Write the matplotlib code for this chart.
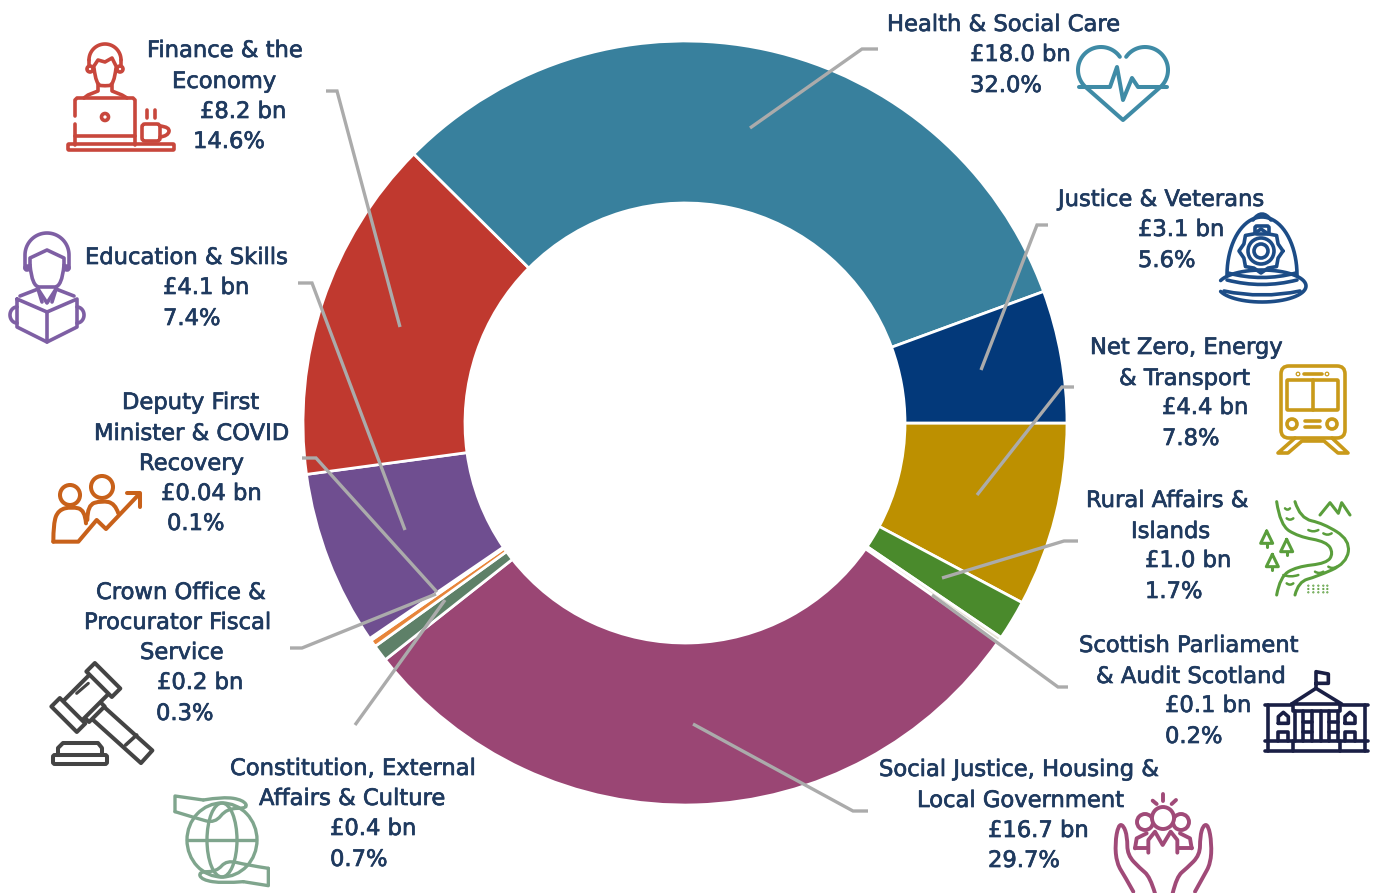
import numpy as np
import matplotlib
matplotlib.use("Agg")
import matplotlib.pyplot as plt
import matplotlib.patheffects as pe
from matplotlib.path import Path
from matplotlib.patches import PathPatch, Circle, Ellipse, FancyBboxPatch

# ---- data (clockwise from due east) ----
categories = ["Net Zero, Energy & Transport", "Rural Affairs & Islands", "Scottish Parliament & Audit Scotland",
              "Social Justice, Housing & Local Government", "Constitution, External Affairs & Culture",
              "Crown Office & Procurator Fiscal Service", "Deputy First Minister & COVID Recovery",
              "Education & Skills", "Finance & the Economy", "Health & Social Care", "Justice & Veterans"]
shares = [7.8, 1.7, 0.2, 29.7, 0.7, 0.3, 0.1, 7.4, 14.6, 32.0, 5.6]
budget_labels = ["£4.4 bn", "£1.0 bn", "£0.1 bn", "£16.7 bn", "£0.4 bn", "£0.2 bn", "£0.04 bn",
                 "£4.1 bn", "£8.2 bn", "£18.0 bn", "£3.1 bn"]
share_labels = ["7.8%", "1.7%", "0.2%", "29.7%", "0.7%", "0.3%", "0.1%", "7.4%", "14.6%", "32.0%", "5.6%"]
colors = ["#BD9000", "#4A8A2C", "#E8E4D8", "#9A4674", "#5E8068", "#E8853A", "#E8853A",
          "#6F4E90", "#C0392F", "#38809D", "#03397A"]

TEXT = "#1F3A5F"
GREY = "#ABABAB"
plt.rcParams['font.family'] = ['DejaVu Sans']

fig = plt.figure(figsize=(13.77, 8.93), dpi=100)
ax = fig.add_axes([0, 0, 1, 1])
ax.pie(shares, colors=colors, center=(685, 423), radius=382, startangle=0, counterclock=True,
       wedgeprops=dict(width=162, edgecolor="white", linewidth=2.0))
ax.set_xlim(0, 1377)
ax.set_ylim(893, 0)
ax.set_aspect("equal")
ax.axis("off")

# ---- helpers (pixel units) ----
LW = 2.6
def line(pts, c, lw=LW, **k):
    p = np.array(pts, float)
    ax.plot(p[:, 0], p[:, 1], color=c, lw=lw, solid_capstyle="round", solid_joinstyle="round", **k)

def smooth(pts, c, lw=LW):
    p = [tuple(q) for q in pts]
    verts = [p[0]]; codes = [Path.MOVETO]
    for i in range(1, len(p) - 1):
        mid = ((p[i][0] + p[i + 1][0]) / 2, (p[i][1] + p[i + 1][1]) / 2)
        if i == len(p) - 2:
            mid = p[-1]
        verts += [p[i], mid]; codes += [Path.CURVE3, Path.CURVE3]
    ax.add_patch(PathPatch(Path(verts, codes), fc="none", ec=c, lw=lw, capstyle="round", joinstyle="round"))

def arc(cx, cy, rx, ry, a0, a1, n=40):
    t = np.radians(np.linspace(a0, a1, n))
    return list(zip(cx + rx * np.cos(t), cy + ry * np.sin(t)))

def circ(x, y, r, c, lw=LW, fc="none", z=3):
    ax.add_patch(Circle((x, y), r, fc=fc, ec=c, lw=lw, zorder=z))

def box(x0, y0, x1, y1, c, lw=LW, pad=2, fc="none"):
    ax.add_patch(FancyBboxPatch((x0 + pad, y0 + pad), x1 - x0 - 2 * pad, y1 - y0 - 2 * pad,
                                boxstyle=f"round,pad={pad},rounding_size={pad}", fc=fc, ec=c, lw=lw))

def rbox(cx, cy, w, h, ang, c, lw=LW, z=3):
    a = np.radians(ang)
    ux, uy = np.cos(a), np.sin(a)
    vx, vy = -uy, ux
    pts = [(cx + s * w / 2 * ux + t * h / 2 * vx, cy + s * w / 2 * uy + t * h / 2 * vy)
           for s, t in [(-1, -1), (1, -1), (1, 1), (-1, 1), (-1, -1)]]
    p = np.array(pts)
    ax.fill(p[:, 0], p[:, 1], fc="white", ec=c, lw=lw, joinstyle="round", zorder=z)

def mapz(pts, ox, oy):
    return [(ox + x / 3, oy + y / 3) for x, y in pts]

# ---- leader lines ----
leaders = [
    [(878, 49), (862, 49), (750, 128)], [(1048, 225), (1037, 225), (981, 370)],
    [(1074, 387), (1062, 387), (977, 495)], [(1078, 541), (1064, 541), (942, 578)],
    [(1068, 687), (1058, 687), (932, 595)], [(868, 811), (853, 811), (693, 724)],
    [(355, 725), (445, 600)], [(290, 648), (302, 648), (436, 594)],
    [(302, 458), (316, 458), (437, 592)], [(298, 283), (312, 283), (405, 530)],
    [(326, 91), (337, 91), (400, 327)],
]
for l in leaders:
    p = np.array(l, float)
    ax.plot(p[:, 0], p[:, 1], color=GREY, lw=2.4, solid_joinstyle="miter", solid_capstyle="butt")

# ---- labels ----
name_lines = {
    0: ["Net Zero, Energy", "& Transport"], 1: ["Rural Affairs &", "Islands"],
    2: ["Scottish Parliament", "& Audit Scotland"], 3: ["Social Justice, Housing &", "Local Government"],
    4: ["Constitution, External", "Affairs & Culture"], 5: ["Crown Office &", "Procurator Fiscal", "Service"],
    6: ["Deputy First", "Minister & COVID", "Recovery"], 7: ["Education & Skills"],
    8: ["Finance & the", "Economy"], 9: ["Health & Social Care"], 10: ["Justice & Veterans"],
}
anchors = {
    0: ([1090, 1119, 1162, 1162], [345, 376, 405, 436]),
    1: ([1086, 1131, 1145, 1145], [498, 529, 558, 589]),
    2: ([1079, 1096, 1165, 1165], [643, 674, 703, 734]),
    3: ([879, 917, 988, 988], [767, 798, 828, 858]),
    4: ([230, 259, 330, 330], [766, 796, 826, 857]),
    5: ([96, 84, 140, 157, 156], [590, 620, 650, 680, 711]),
    6: ([122, 94, 139, 161, 167], [400, 431, 461, 491, 521]),
    7: ([85, 163, 163], [255, 285, 316]),
    8: ([147, 172, 200, 193], [48, 79, 109, 139]),
    9: ([887, 970, 970], [22, 52, 83]),
    10: ([1058, 1138, 1138], [197, 227, 258]),
}
for i in range(len(categories)):
    rows = name_lines[i] + [budget_labels[i], share_labels[i]]
    xs, ys = anchors[i]
    for s, x, y in zip(rows, xs, ys):
        ax.text(x, y, s, fontsize=16.3, color=TEXT, ha="left", va="center_baseline",
                path_effects=[pe.withStroke(linewidth=0.5, foreground=TEXT)])

# ---- icons ----
# Finance
c = "#C8473C"
line(arc(105, 60, 16, 16, 180, 360), c)
line([(89, 60), (89, 66)], c); line([(121, 60), (121, 66)], c)
circ(90, 69, 3, c); circ(120, 69, 3, c)
line([(94, 66), (98, 60), (105, 62), (112, 58), (116, 66)], c)
smooth([(94, 68), (96, 85), (105, 86), (114, 85), (116, 68)], c)
line([(98, 84), (98, 91), (88, 95), (84, 98)], c); line([(112, 84), (112, 91), (122, 95), (127, 98)], c)
line([(75, 116), (75, 100), (77, 98), (133, 98), (135, 100), (135, 145)], c)
line([(75, 124), (75, 145)], c); line([(75, 136), (135, 136)], c)
circ(105, 117, 3.5, c)
box(68, 144, 174, 150, c, pad=1)
box(142, 124, 160, 141, c, pad=3)
smooth([(160, 126), (170, 127), (168, 136), (160, 137)], c)
line([(147, 110), (147, 118)], c); line([(155, 110), (155, 118)], c)
# Education
c = "#7E5FA4"
line([(25, 268)] + arc(47, 255, 22, 22, 180, 360) + [(69, 268)], c)
line([(30, 265), (30, 258), (47, 250), (64, 258), (64, 265)], c)
smooth([(30, 265), (32, 287), (47, 287), (62, 287), (64, 265)], c)
circ(27, 268, 2, c); circ(67, 268, 2, c)
line([(20, 296), (38, 289), (47, 303), (56, 289), (74, 296)], c)
line([(38, 289), (42, 302)], c); line([(56, 289), (52, 302)], c)
line([(17, 299), (47, 312), (77, 299), (77, 327), (47, 342), (17, 327), (17, 299)], c)
line([(47, 312), (47, 342)], c)
line(arc(17, 315, 7, 8, 90, 270), c); line(arc(77, 315, 7, 8, -90, 90), c)
# Heart
c = "#3F8BA6"
line(arc(1101, 70, 23, 23, -35, -225) + [(1123, 120)] + arc(1145, 70, 23, 23, 45, -145), c, 2.9)
line([(1079, 87), (1110, 87), (1117, 67), (1123, 100), (1132, 78), (1138, 87), (1167, 87)], c, 2.9)
# Helmet
c = "#1C4C86"
line(arc(1262, 275, 35, 58, 180, 360), c)
smooth([(1253, 220), (1262, 208), (1271, 220)], c)
box(1255, 226, 1269, 234, c, pad=2)
star = []
for k in range(16):
    r = 22 if k % 2 == 0 else 18.5
    a = k * np.pi / 8
    star.append((1261 + r * np.cos(a), 251 + r * np.sin(a)))
star.append(star[0])
line(star, c)
circ(1261, 251, 13, c); circ(1261, 251, 7, c)
smooth([(1228, 273), (1262, 282), (1296, 273)], c)
smooth([(1227, 280), (1262, 289), (1297, 280)], c)
line(arc(1262, 286, 44, 16, 200, 520, 60), c)
smooth([(1224, 291), (1262, 299), (1300, 291)], c)
# Train
c = "#C99A1A"
box(1281, 366, 1345, 438, c, pad=8)
box(1287, 380, 1338, 410, c, pad=1)
line([(1313, 380), (1313, 410)], c)
circ(1292, 424, 5, c); circ(1332, 424, 5, c)
line([(1305, 421), (1320, 421)], c); line([(1305, 427), (1320, 427)], c)
line([(1304, 374), (1322, 374)], c); circ(1298, 374, .6, c); circ(1327, 374, .6, c)
line([(1295, 438), (1278, 453), (1288, 453), (1302, 441), (1324, 441), (1338, 453), (1348, 453), (1332, 438)], c)
# River
c = "#5A9E3C"
o = (1230, 350)
smooth(mapz([(140, 455), (150, 525), (205, 560), (290, 575), (310, 610), (290, 640), (200, 650), (150, 680), (140, 735)], *o), c, 2.2)
smooth(mapz([(195, 455), (210, 505), (280, 520), (360, 570), (350, 640), (260, 680), (205, 695), (195, 735)], *o), c, 2.2)
line(mapz([(270, 495), (300, 458), (325, 490), (335, 458), (360, 495)], *o), c, 2.2)
for tx, ty in [(110, 565), (170, 590), (127, 635)]:
    line(mapz([(tx, ty - 22), (tx + 18, ty + 15), (tx - 18, ty + 15), (tx, ty - 22)], *o), c, 2.2)
    line(mapz([(tx, ty + 15), (tx, ty + 25)], *o), c, 2.2)
for a, b, d in [(165, 475, 180), (170, 505, 190), (235, 540, 265), (280, 550, 305), (255, 665, 280), (295, 650, 320), (160, 675, 205), (170, 700, 190)]:
    smooth(mapz([(a, b), ((a + d) / 2, b + 8), (d, b)], *o), c, 1.8)
for yy in (707, 717, 727):
    for xx in (235, 250, 265, 280, 292):
        x, y = mapz([(xx, yy)], *o)[0]
        circ(x, y, .4, c, 1.0)
# Parliament
c = "#1A1F45"
line(mapz([(185, 1062), (258, 1015), (335, 1062), (185, 1062)], *o), c)
line(mapz([(258, 1015), (258, 965), (295, 972), (295, 1000), (258, 1000)], *o), c)
line(mapz([(105, 1065), (185, 1065)], *o), c); line(mapz([(335, 1065), (415, 1065)], *o), c)
line(mapz([(190, 1062), (190, 1082), (330, 1082), (330, 1062)], *o), c)
line(mapz([(115, 1065), (115, 1172)], *o), c); line(mapz([(405, 1065), (405, 1172)], *o), c)
line(mapz([(105, 1172), (415, 1172)], *o), c); line(mapz([(105, 1203), (415, 1203)], *o), c)
line(mapz([(115, 1172), (115, 1203)], *o), c); line(mapz([(405, 1172), (405, 1203)], *o), c)
line(mapz([(190, 1172), (190, 1203)], *o), c); line(mapz([(330, 1172), (330, 1203)], *o), c)
for xx in (195, 220, 245, 272, 298, 325):
    line(mapz([(xx, 1082), (xx, 1172)], *o), c)
for xx in (220, 298):
    line(mapz([(xx, 1115), (xx + 27, 1115)], *o), c); line(mapz([(xx, 1145), (xx + 27, 1145)], *o), c)
for xx in (145, 345):
    line(mapz([(xx, 1120), (xx, 1100), (xx + 15, 1087), (xx + 30, 1100), (xx + 30, 1120), (xx, 1120)], *o), c)
    line(mapz([(xx, 1172), (xx, 1145), (xx + 30, 1145), (xx + 30, 1172)], *o), c)
# Hands / people
c = "#A04A78"
o = (1090, 780)
circ(1145, 822, 8, c, 2.8); circ(1181, 822, 8, c, 2.8); circ(1163, 818, 11, c, 2.8, fc="white", z=4)
line(mapz([(135, 205), (140, 175), (170, 160)], *o), c, 2.8)
line(mapz([(135, 205), (172, 205)], *o), c, 2.8)
line(mapz([(305, 205), (300, 175), (270, 160)], *o), c, 2.8)
line(mapz([(305, 205), (265, 205)], *o), c, 2.8)
line(mapz([(175, 218), (175, 180), (195, 155), (218, 195), (242, 155), (262, 180), (262, 218)], *o), c, 2.8)
line(mapz([(218, 42), (218, 62)], *o), c, 2.8)
line(mapz([(188, 62), (200, 72)], *o), c, 2.8); line(mapz([(245, 72), (258, 60)], *o), c, 2.8)
smooth(mapz([(130, 335), (105, 290), (80, 250), (75, 190), (85, 135), (100, 135), (112, 170), (112, 225), (150, 265), (180, 290), (195, 340)], *o), c, 2.8)
smooth(mapz([(315, 335), (340, 290), (362, 250), (365, 190), (355, 135), (340, 135), (330, 170), (330, 225), (290, 265), (260, 290), (248, 340)], *o), c, 2.8)
# DFM people and arrow
c = "#C8611A"
o = (30, 460)
circ(70, 495, 10, c, 2.9); circ(102, 487, 11, c, 2.9)
line(mapz([(70, 245), (145, 245), (200, 180), (228, 207), (325, 105)], *o), c, 2.9)
line(mapz([(290, 100), (330, 100), (330, 140)], *o), c, 2.9)
smooth(mapz([(70, 245), (70, 190), (85, 150), (125, 140), (165, 150), (168, 190)], *o), c, 2.9)
smooth(mapz([(172, 180), (172, 135), (215, 122), (255, 130), (265, 160)], *o), c, 2.9)
# Globe
c = "#7FA58D"
o = (30, 460)
ax.add_patch(Ellipse((222, 840), 70, 74, fc="none", ec=c, lw=2.4))
ax.add_patch(Ellipse((222, 840), 30, 74, fc="none", ec=c, lw=2.4))
line(mapz([(470, 1140), (678, 1140)], *o), c, 2.4)
line(mapz([(435, 1055), (435, 1008), (520, 1020)], *o), c, 2.4)
smooth(mapz([(520, 1020), (580, 1010), (640, 1020), (655, 1045), (590, 1045), (555, 1090), (500, 1075), (435, 1055)], *o), c, 2.4)
line(mapz([(715, 1225), (715, 1277), (640, 1265)], *o), c, 2.4)
smooth(mapz([(640, 1265), (580, 1270), (515, 1260), (505, 1235), (560, 1235), (590, 1200), (650, 1215), (715, 1225)], *o), c, 2.4)
# Gavel
c = "#444444"
rbox(30 + 272 / 3, 460 + 820 / 3, 70, 17, 42, c, 2.9, z=3)
rbox(30 + 190 / 3, 460 + 752 / 3, 22, 10, -45, c, 2.9, z=4)
rbox(30 + 167 / 3, 460 + 713 / 3, 49, 27, -45, c, 2.9, z=5)
rbox(30 + 115 / 3, 460 + 765 / 3, 36, 12, 45, c, 2.9, z=6)
rbox(30 + 220 / 3, 460 + 660 / 3, 36, 12, 45, c, 2.9, z=6)
line(mapz([(140, 700), (175, 670)], *o), c, 2.2, zorder=7)
line(mapz([(287, 855), (320, 825)], *o), c, 2.6, zorder=7)
box(53, 755, 107, 764, c, lw=2.9, pad=2)
line([(58, 755), (58, 748), (63, 743), (98, 743), (102, 748), (102, 755)], c, 2.9)

fig.savefig("out.png", dpi=100)
